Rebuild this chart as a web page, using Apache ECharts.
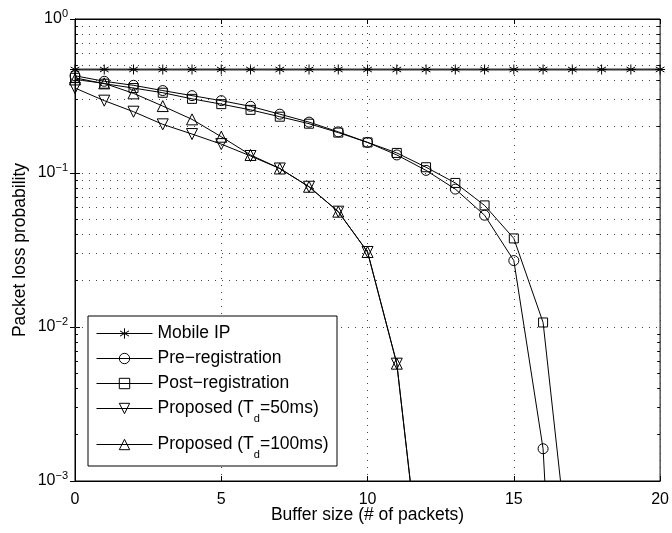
<!DOCTYPE html>
<html><head><meta charset="utf-8">
<script src="https://cdn.jsdelivr.net/npm/echarts@6/dist/echarts.min.js"></script>
<style>html,body{margin:0;padding:0;background:#fff}#c{width:672px;height:533px}</style>
</head><body><div id="c"></div>
<script>
// ---- data ----
const bufferSize = [0,1,2,3,4,5,6,7,8,9,10,11,12,13,14,15,16,17,18,19,20];
const mobileIP  = [0.47,0.47,0.47,0.47,0.47,0.47,0.47,0.47,0.47,0.47,0.47,0.47,0.47,0.47,0.47,0.47,0.47,0.47,0.47,0.47,0.47];
const preReg    = [0.428,0.394,0.371,0.343,0.318,0.295,0.271,0.241,0.214,0.185,0.158,0.131,0.104,0.0786,0.0532,0.0270,0.00162,0.0000005];
const postReg   = [0.415,0.380,0.356,0.332,0.303,0.280,0.257,0.232,0.209,0.183,0.158,0.135,0.109,0.0862,0.0616,0.0376,0.0107,0.0002];
const prop50    = [0.356,0.295,0.250,0.207,0.179,0.154,0.129,0.107,0.0814,0.0561,0.0307,0.00578,0.000126];
const prop100   = [0.405,0.382,0.329,0.272,0.223,0.172,0.131,0.107,0.0814,0.0561,0.0307,0.00578,0.000126];
const seriesNames = ['Mobile IP','Pre\u2212registration','Post\u2212registration','Proposed (Td=50ms)','Proposed (Td=100ms)'];
const xTicks = [0,5,10,15,20];
const yMinorGrid = [0.002,0.003,0.004,0.005,0.006,0.007,0.008,0.009,
                    0.02,0.03,0.04,0.05,0.06,0.07,0.08,0.09,
                    0.2,0.3,0.4,0.5,0.6,0.7,0.8,0.9];

const FONT = 'Liberation Sans, Arial, Helvetica, sans-serif';
function pairs(ys){ return ys.map((y,i)=>[bufferSize[i], y]); }

const dotted = {color:'#444', width:1, type:[1,6]};
const markLines = [];
yMinorGrid.forEach(v => markLines.push({yAxis: v, lineStyle: dotted}));
yMinorGrid.forEach(v => {
  markLines.push([{coord:[0, v], lineStyle:{color:'#000',width:1,type:'solid'}},{coord:[0.1, v]}]);
  markLines.push([{coord:[19.9, v], lineStyle:{color:'#000',width:1,type:'solid'}},{coord:[20, v]}]);
});

const asterisk = 'path://M0,-10L0,10M-8.66,-5L8.66,5M-8.66,5L8.66,-5M-10,0L10,0';
const downTri = 'path://M-10,-8.5L10,-8.5L0,9Z';
const upTri = 'path://M-10,8.5L10,8.5L0,-9Z';
const sq = 'path://M-10,-10L10,-10L10,10L-10,10Z';
const circ = 'path://M10,0A10,10,0,1,1,-10,0A10,10,0,1,1,10,0Z';

function mk(name, data, symbol, size, extra){
  return Object.assign({
    name, type:'line', data: pairs(data), symbol, symbolSize: size,
    showAllSymbol: true, clip: true, animation:false,
    lineStyle:{color:'#000', width:1},
    itemStyle:{color:'rgba(0,0,0,0)', borderColor:'#000', borderWidth:1},
    emphasis:{disabled:true}
  }, extra||{});
}

const LF = 17.5;
const rich = {
  s:{fontSize:11, fontFamily:FONT, color:'#000', verticalAlign:'bottom', lineHeight:31},
  n:{fontSize:LF, fontFamily:FONT, color:'#000', lineHeight:18}
};
function legendFmt(name){
  if (name.indexOf('Td') >= 0) {
    const parts = name.split('Td');
    return '{n|' + parts[0] + 'T}{s|d}{n|' + parts[1] + '}';
  }
  return '{n|' + name + '}';
}
const legendCommon = {
  orient:'vertical', left:96, itemWidth:56, itemHeight:13, padding:0,
  formatter: legendFmt, textStyle:{rich, fontSize:LF, fontFamily:FONT, color:'#000'},
  itemStyle:{color:'rgba(0,0,0,0)', borderColor:'#000', borderWidth:1},
  lineStyle:{color:'#000', width:1},
  selectedMode:false, z:10
};

const chart = echarts.init(document.getElementById('c'), null, {renderer:'canvas'});
chart.setOption({
  backgroundColor:'#fff',
  animation:false,
  grid:{left:75, right:10, top:19, bottom:52, show:true, borderColor:'#000', borderWidth:1, backgroundColor:'transparent'},
  xAxis:[{
    type:'value', min:0, max:20, interval:5,
    name:'Buffer size (# of packets)', nameLocation:'middle', nameGap:25, nameMoveOverlap:false,
    nameTextStyle:{fontSize:17.5, fontFamily:FONT, color:'#000'},
    axisLine:{show:true, lineStyle:{color:'#000', width:1}},
    axisTick:{show:true, inside:true, length:5, lineStyle:{color:'#000'}},
    axisLabel:{fontSize:16, fontFamily:FONT, color:'#000', margin:11,
      formatter: v => xTicks.indexOf(v) >= 0 ? String(v) : ''},
    splitLine:{show:true, lineStyle:dotted}
  },{
    type:'value', min:0, max:20, interval:5, position:'top',
    axisLine:{show:true, lineStyle:{color:'#000'}},
    axisTick:{show:true, inside:true, length:5, lineStyle:{color:'#000'}},
    axisLabel:{show:false}, splitLine:{show:false}
  }],
  yAxis:[{
    type:'log', min:0.001, max:1, logBase:10,
    name:'Packet loss probability', nameLocation:'middle', nameGap:46, nameMoveOverlap:false,
    nameTextStyle:{fontSize:17.5, fontFamily:FONT, color:'#000'},
    axisLine:{show:true, lineStyle:{color:'#000', width:1}},
    axisTick:{show:true, inside:true, length:5, lineStyle:{color:'#000'}},
    axisLabel:{margin:7, fontFamily:FONT, color:'#000',
      formatter: v => { const e = Math.round(Math.log10(v)); return '{a|10}{b|' + (e === 0 ? '0' : '\u2212' + (-e)) + '}'; },
      rich:{
        a:{fontSize:16, fontFamily:FONT, color:'#000', lineHeight:22, verticalAlign:'middle'},
        b:{fontSize:11, fontFamily:FONT, color:'#000', lineHeight:22, verticalAlign:'top'}
      }},
    splitLine:{show:true, lineStyle:dotted}
  },{
    type:'log', min:0.001, max:1, logBase:10, position:'right',
    axisLine:{show:true, lineStyle:{color:'#000'}},
    axisTick:{show:true, inside:true, length:5, lineStyle:{color:'#000'}},
    axisLabel:{show:false}, splitLine:{show:false}
  }],
  legend:[
    Object.assign({data: seriesNames.slice(0,4), top:324.5, itemGap:7}, legendCommon),
    Object.assign({data: seriesNames.slice(4), top:435.5}, legendCommon)
  ],
  graphic:[{
    type:'rect', shape:{x:88, y:316, width:249, height:150}, z:8, silent:true,
    style:{fill:'#fff', stroke:'#000', lineWidth:1}
  }],
  series:[
    mk(seriesNames[0], mobileIP, asterisk, 10, {
      lineStyle:{color:'#333', width:1.8},
      markLine:{silent:true, symbol:'none', label:{show:false}, animation:false, data: markLines}
    }),
    mk(seriesNames[1], preReg, circ, 10),
    mk(seriesNames[2], postReg, sq, 9),
    mk(seriesNames[3], prop50, downTri, 11),
    mk(seriesNames[4], prop100, upTri, 11)
  ]
});
</script></body></html>
